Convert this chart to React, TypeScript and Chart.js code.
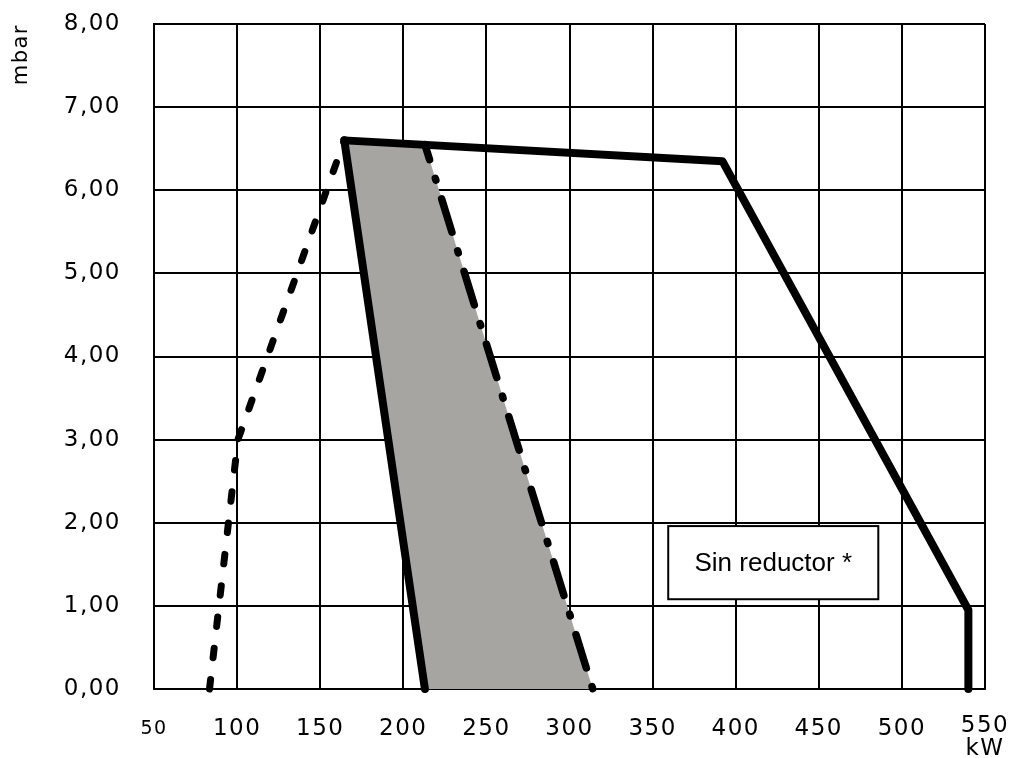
import React, { useEffect, useRef } from 'react';
import { Chart, registerables } from 'chart.js';

Chart.register(...registerables);

// ---- data ----
const xTickValues = [50, 100, 150, 200, 250, 300, 350, 400, 450, 500, 550];
const yTickValues = [0, 1, 2, 3, 4, 5, 6, 7, 8];
const xUnit = 'kW';
const yUnit = 'mbar';
const noteText = 'Sin reductor *';

// dashed left boundary
const dashedX = [83.4, 100.5, 164.5];
const dashedY = [0, 3.0, 6.6];
// outer solid boundary
const outerX = [164.5, 392, 540, 540];
const outerY = [6.6, 6.35, 0.95, 0];
// inner solid boundary
const innerX = [164.5, 213];
const innerY = [6.6, 0];
// dash-dot boundary
const dashDotX = [213, 314];
const dashDotY = [6.55, 0];
// grey area
const areaX = [164.5, 213, 314, 213];
const areaY = [6.6, 6.55, 0, 0];

// note box corners (data units)
const noteBoxX = [359.4, 485.8];
const noteBoxY = [1.96, 1.08];

const pts = (xs: number[], ys: number[]) => xs.map((x, i) => ({ x, y: ys[i] }));

const FONT = 'DejaVu Sans';

const spacingPlugin = {
  id: 'spacing',
  beforeDraw(chart: any) {
    (chart.ctx as any).letterSpacing = '1.5px';
  },
  afterDraw(chart: any) {
    (chart.ctx as any).letterSpacing = '0px';
  },
};

const noteBoxPlugin = {
  id: 'noteBox',
  afterDatasetsDraw(chart: any) {
    const { ctx, scales } = chart;
    const xs = scales.x;
    const ys = scales.y;
    const x1 = xs.getPixelForValue(noteBoxX[0]);
    const x2 = xs.getPixelForValue(noteBoxX[1]);
    const y1 = ys.getPixelForValue(noteBoxY[0]);
    const y2 = ys.getPixelForValue(noteBoxY[1]);
    ctx.save();
    (ctx as any).letterSpacing = '0px';
    ctx.fillStyle = '#fff';
    ctx.fillRect(x1, y1, x2 - x1, y2 - y1);
    ctx.strokeStyle = '#000';
    ctx.lineWidth = 2;
    ctx.strokeRect(x1, y1, x2 - x1, y2 - y1);
    ctx.fillStyle = '#000';
    ctx.font = '26px "Liberation Sans", Arial, sans-serif';
    ctx.textAlign = 'center';
    ctx.textBaseline = 'middle';
    ctx.fillText(noteText, (x1 + x2) / 2, (y1 + y2) / 2 + 1);
    ctx.restore();
  },
};

const zeroPadding = (scale: any) => {
  scale.paddingTop = 0;
  scale.paddingBottom = 0;
  scale.paddingLeft = 0;
  scale.paddingRight = 0;
};

export default function App() {
  const canvasRef = useRef<HTMLCanvasElement | null>(null);

  useEffect(() => {
    if (!canvasRef.current) return;
    const lineBase = {
      pointRadius: 0,
      pointHoverRadius: 0,
      fill: false,
      tension: 0,
      clip: false as any,
      borderColor: '#000',
      borderCapStyle: 'round' as const,
      borderJoinStyle: 'round' as const,
    };
    const chart = new Chart(canvasRef.current, {
      type: 'line',
      data: {
        datasets: [
          { ...lineBase, data: pts(outerX, outerY), borderWidth: 8 },
          { ...lineBase, data: pts(innerX, innerY), borderWidth: 8 },
          {
            ...lineBase,
            data: pts(dashDotX, dashDotY),
            borderWidth: 7.5,
            borderDash: [35, 19.5, 2, 19.5],
            borderDashOffset: 19.2,
          },
          {
            ...lineBase,
            data: pts(dashedX, dashedY),
            borderWidth: 7,
            borderDash: [9.5, 22],
          },
          {
            data: pts(areaX, areaY),
            pointRadius: 0,
            borderWidth: 0,
            borderColor: 'rgba(0,0,0,0)',
            backgroundColor: '#a6a5a1',
            fill: 'shape',
            tension: 0,
          } as any,
        ],
      },
      options: {
        animation: false,
        responsive: true,
        maintainAspectRatio: false,
        events: [],
        layout: { padding: { left: 0, top: 24, right: 36, bottom: 0 } },
        plugins: {
          legend: { display: false },
          tooltip: { enabled: false },
          title: { display: false },
        },
        scales: {
          x: {
            type: 'linear',
            min: 50,
            max: 550,
            afterBuildTicks: (scale: any) => {
              scale.ticks = xTickValues.map((v) => ({ value: v }));
            },
            afterFit: (scale: any) => {
              scale.height = 69;
              zeroPadding(scale);
            },
            grid: { color: '#000', lineWidth: 2, drawTicks: false, tickLength: 0 },
            border: { display: true, color: '#000', width: 2 },
            ticks: {
              autoSkip: false,
              maxRotation: 0,
              padding: 26,
              color: '#000',
              callback: (v: any) => (Number(v) === 550 ? [String(v), xUnit] : String(v)),
              font: (ctx: any) => {
                const v = ctx.tick ? ctx.tick.value : null;
                if (v === 50) return { family: FONT, size: 19, lineHeight: '28px' };
                if (v === 550) return { family: FONT, size: 23, lineHeight: '23px' };
                return { family: FONT, size: 23 };
              },
            },
          },
          y: {
            type: 'linear',
            min: 0,
            max: 8,
            afterBuildTicks: (scale: any) => {
              scale.ticks = yTickValues.map((v) => ({ value: v }));
            },
            afterFit: (scale: any) => {
              scale.width = 154;
              zeroPadding(scale);
            },
            grid: { color: '#000', lineWidth: 2, drawTicks: false, tickLength: 0 },
            border: { display: true, color: '#000', width: 2 },
            ticks: {
              padding: 33,
              color: '#000',
              font: { family: FONT, size: 23 },
              callback: (v: any) => Number(v).toFixed(2).replace('.', ','),
            },
            title: {
              display: true,
              text: yUnit,
              align: 'end',
              color: '#000',
              font: { family: FONT, size: 21 },
              padding: { top: 9, bottom: 0 },
            },
          },
        },
      },
      plugins: [spacingPlugin, noteBoxPlugin],
    });
    return () => chart.destroy();
  }, []);

  return (
    <div style={{ position: 'fixed', left: 0, top: 0, width: 1021, height: 758, background: '#fff' }}>
      <canvas ref={canvasRef} />
    </div>
  );
}
